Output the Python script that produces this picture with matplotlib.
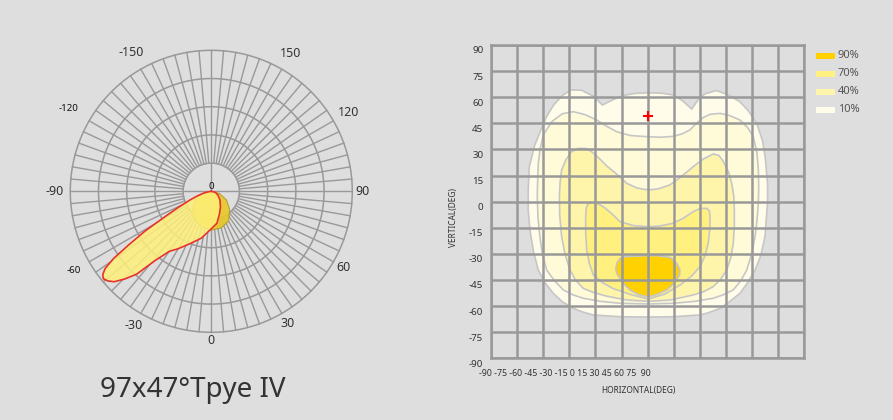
import numpy as np
import matplotlib
matplotlib.use("Agg")
import matplotlib.pyplot as plt
from matplotlib.patches import Rectangle
from matplotlib.transforms import ScaledTranslation

plt.rcParams['font.family'] = ['Noto Sans', 'DejaVu Sans']

BG = '#DEDEDE'
GRID = '#999999'
TXT = '#333333'

# --- polar intensity curves (deg from nadir, +ve towards the right side) ---
c0_theta = [-90, -80, -76, -72, -68, -64, -61, -59, -57, -55.5, -54, -52.5, -51,
            -49, -47, -44.5, -42, -39, -35, -30, -22, -12, -2, 10, 20, 30, 45,
            60, 75, 90]
c0_r = [0, 0.03, 0.058, 0.10, 0.16, 0.26, 0.39, 0.55, 0.70, 0.84, 0.93, 0.97,
        0.985, 0.97, 0.94, 0.87, 0.79, 0.63, 0.52, 0.47, 0.40, 0.34, 0.275, 0.23,
        0.17, 0.13, 0.087, 0.055, 0.03, 0]

c90_theta = [-90, -75, -60, -45, -30, -15, 0, 15, 30, 45, 60, 75, 90]
c90_r = [0, 0.07, 0.135, 0.19, 0.235, 0.262, 0.275, 0.27, 0.245, 0.185, 0.125, 0.06, 0]

polar_ticks = [0, 30, 60, 90, 120, 150, -150, -120, -90, -60, -30]
polar_tick_r = [1.06, 1.085, 1.085, 1.07, 1.125, 1.125, 1.14, 1.17, 1.11, 1.13, 1.10]
polar_tick_bold = [False, False, False, False, False, False, False, True, False, True, False]

# --- isolux regions (horizontal deg, vertical deg) ---
c10_h = [0, 8, 14.7, 20, 25.3, 29, 33, 39.6, 46, 53, 58, 62.6, 66, 67.6, 68.9, 68.9,
         68, 67.4, 65, 61.7, 57.5, 53, 47, 41.6, 35, 30.1, 14.7, 0.4, -15.9, -31.2,
         -37, -42.7, -49, -54.2, -59, -62.8, -65.5, -67.6, -68.6, -68.6, -68, -65,
         -61.8, -58, -54, -49, -44, -38, -31, -26, -20, -14, -7]
c10_v = [62.5, 62.3, 61.3, 58, 53.2, 58.5, 62, 63.8, 61.5, 57.4, 52, 45, 35, 25, 10, 0,
         -12, -20, -31, -39.3, -46.5, -52.7, -57.5, -61.3, -63.8, -65.1, -66.1, -66.3,
         -66.1, -65.1, -63.5, -61.3, -57.5, -52.7, -46.5, -39.3, -29, -16.3, -5, 6.7,
         20, 32, 40, 49, 55.5, 61, 64.2, 64, 60.5, 55.5, 58.5, 61, 62.2]

c20_h = [0, 7, 14.7, 20, 24.3, 28, 32, 36, 41.6, 47, 53, 57.5, 60.7, 62.8, 63.6, 63.8,
         63.6, 62.8, 61.7, 59.8, 56.9, 53.5, 49.2, 43.5, 37.7, 27, 14.7, 0.4, -15.9,
         -27, -37, -43, -48.4, -53.5, -58, -60.5, -61.9, -63, -63.4, -63.2, -62.8,
         -61.8, -60, -55, -49, -42.7, -36, -29.3, -23.5, -17.8, -10]
c20_v = [37.3, 37, 37.5, 39, 41.2, 45, 48.4, 50.2, 50.7, 49.5, 46.9, 42.5, 37.3, 28,
         18.2, 8, -1, -11, -20.1, -30, -39.3, -45.5, -50.7, -53.5, -55.5, -57.3, -58.4,
         -58.8, -58.4, -57.3, -55.5, -53.5, -50.7, -45.5, -39.3, -30, -20.1, -9, 2.9,
         12, 22, 30, 38.3, 46, 50.5, 51.7, 50, 46.9, 43.3, 40.2, 38]

c40_h = [0.4, 6, 12.8, 19.5, 26.2, 32, 37.7, 41, 43.5, 46.5, 48.3, 49.5, 49.8, 49.8,
         49.2, 47.8, 45.4, 42, 37.7, 32, 26.2, 13, 0.4, -12, -23.6, -31, -37, -41.5,
         -44.6, -47.5, -49.4, -50.5, -50.7, -50.3, -49.4, -47, -43.7, -39.8, -35,
         -32.2, -28, -23.5, -18, -12, -6]
c40_v = [6.7, 7.3, 9.6, 14.5, 20.1, 24.5, 27.4, 26.5, 23, 17, 10.5, 3, -4.8, -14,
         -23.9, -32, -39.3, -44.5, -48.8, -51.8, -53.6, -56.5, -57.3, -56.5, -54.3,
         -52.2, -49.8, -45, -39.3, -30, -20.1, -8, 2.9, 11, 18.2, 24, 28.7, 30.6, 30.5,
         28.7, 25, 20.5, 16, 10.5, 7.8]

c70_h = [0.4, 7, 14.7, 20.5, 26.2, 30, 33.9, 35.5, 35.8, 35.8, 34.8, 33, 30.1, 25,
         18.6, 10, 0.4, -10, -19.7, -26, -31.2, -33.5, -35, -35.6, -35.6, -35.3, -34.6,
         -33, -31.2, -28.5, -25.5, -21, -15.9, -8]
c70_v = [-14.4, -14, -12.4, -9.5, -5.7, -4, -3.8, -5.5, -8.6, -15, -23.9, -31, -37.3,
         -43, -47.9, -53, -56, -53.3, -50, -46.5, -42.1, -35.5, -27.8, -18, -8.6, -4,
         -1.9, -0.5, -0.4, -1.2, -2.9, -6.5, -11.5, -13.8]

c90_h = [0.4, 6, 12.9, 16.7, 18.5, 18.4, 16.5, 13.5, 10.9, 6, 0.4, -5, -10.1, -13.5,
         -16, -17.8, -18.3, -17.5, -15.9, -12, -6.3]
c90_v = [-31, -31.1, -32, -35.5, -39, -42, -45, -48.5, -50.8, -53, -54.8, -53.5, -50.8,
         -47.5, -44, -41, -38.3, -35, -32.6, -31.5, -31.3]

regions = [(c10_h, c10_v, '#FFFDEA'), (c20_h, c20_v, '#FFFAD8'),
           (c40_h, c40_v, '#FFF5AA'), (c70_h, c70_v, '#FFF080'),
           (c90_h, c90_v, '#FFD100')]

legend_labels = ['90%', '70%', '40%', '10%']
legend_colors = ['#FFD100', '#FFF080', '#FFF5AA', '#FFFDEA']

max_point = (0, 49)

fig = plt.figure(figsize=(8.93, 4.2), dpi=100)
fig.patch.set_facecolor(BG)

# ---------------- polar panel ----------------
ax = fig.add_axes([0.0787, 0.2088, 0.3158, 0.6714], projection='polar')
ax.set_facecolor('none')
ax.set_theta_zero_location('S')
ax.set_theta_direction(1)
ax.set_ylim(0, 1.0)
ax.set_xticks([])
ax.set_yticks([])
ax.grid(False)
ax.spines['polar'].set_visible(False)

ring = np.linspace(0, 2 * np.pi, 361)
for rr in [0.2, 0.4, 0.6, 0.8, 1.0]:
    ax.plot(ring, np.full_like(ring, rr), color=GRID, lw=1.1, zorder=1, clip_on=False)
for a in range(0, 360, 5):
    r0 = 0.0 if a % 90 == 0 else 0.2
    ax.plot([np.radians(a)] * 2, [r0, 1.0], color=GRID, lw=1.0, zorder=1, clip_on=False)

ax.fill(np.radians(c90_theta), c90_r, facecolor='#E8C828', edgecolor='#B09A30',
        lw=0.8, alpha=0.9, zorder=3)
ax.fill(np.radians(c0_theta), c0_r, facecolor='#FFF07A', edgecolor='none',
        alpha=0.85, zorder=4)
ax.plot(np.radians(c0_theta), c0_r, color='#E8332A', lw=1.2, zorder=5)

for t, rr, b in zip(polar_ticks, polar_tick_r, polar_tick_bold):
    ax.text(np.radians(t), rr, str(t), ha='center', va='center',
            fontsize=7 if b else 9, fontweight='bold' if b else 'normal',
            color=TXT if not b else '#111111')
ax.text(0, 0, '0', ha='center', va='bottom', fontsize=7, fontweight='bold',
        color='#111111', zorder=6)

fig.text(192.5 / 893, 1 - 396.7 / 420, '97x47\u00b0Tpye IV', ha='center',
         va='baseline', fontsize=20, color=TXT)

# ---------------- isolux panel ----------------
ax2 = fig.add_axes([0.5498, 0.1469, 0.3509, 0.746])
ax2.set_facecolor(BG)
ax2.set_xlim(-90, 90)
ax2.set_ylim(-90, 90)
for h, v, col in regions:
    ax2.fill(h, v, facecolor=col, edgecolor='#C6C6C6', lw=1.2, zorder=1)

ticks = list(range(-90, 91, 15))
ax2.set_xticks(ticks)
ax2.set_yticks(ticks)
ax2.set_xticklabels([])
ax2.set_yticklabels([str(t) for t in ticks], fontsize=7, color=TXT)
ax2.tick_params(length=0, pad=5.5)
ax2.grid(True, color=GRID, lw=1.8, zorder=2)
ax2.set_axisbelow(False)
for sp in ax2.spines.values():
    sp.set_color(GRID)
    sp.set_linewidth(1.8)
off = ScaledTranslation(0, -0.05, fig.dpi_scale_trans)
for lab in ax2.get_yticklabels():
    lab.set_transform(lab.get_transform() + off)

ax2.plot(*max_point, marker='+', color='#FF0000', ms=7.5, mew=1.5, zorder=5)

fig.text(479.3 / 893, 1 - 374 / 420,
         '-90 -75 -60 -45 -30 -15 0 15 30 45 60 75  90',
         ha='left', va='center', fontsize=6.3, color=TXT)
fig.text(638 / 893, 1 - 390.7 / 420, 'HORIZONTAL(DEG)', ha='center', va='center',
         fontsize=6, color=TXT)
fig.text(453 / 893, 1 - 217 / 420, 'VERTICAL(DEG)', ha='center', va='center',
         rotation=90, fontsize=6, color=TXT)

for i, (lab, col) in enumerate(zip(legend_labels, legend_colors)):
    yc = 56 + 18 * i
    fig.add_artist(Rectangle((816 / 893, 1 - (yc + 3) / 420), 19 / 893, 6 / 420,
                             transform=fig.transFigure, facecolor=col,
                             edgecolor='none'))
    fig.text(838 / 893, 1 - yc / 420, lab, ha='left', va='center', fontsize=8,
             color='#555555')

fig.savefig('out.png', dpi=100, facecolor=BG)
